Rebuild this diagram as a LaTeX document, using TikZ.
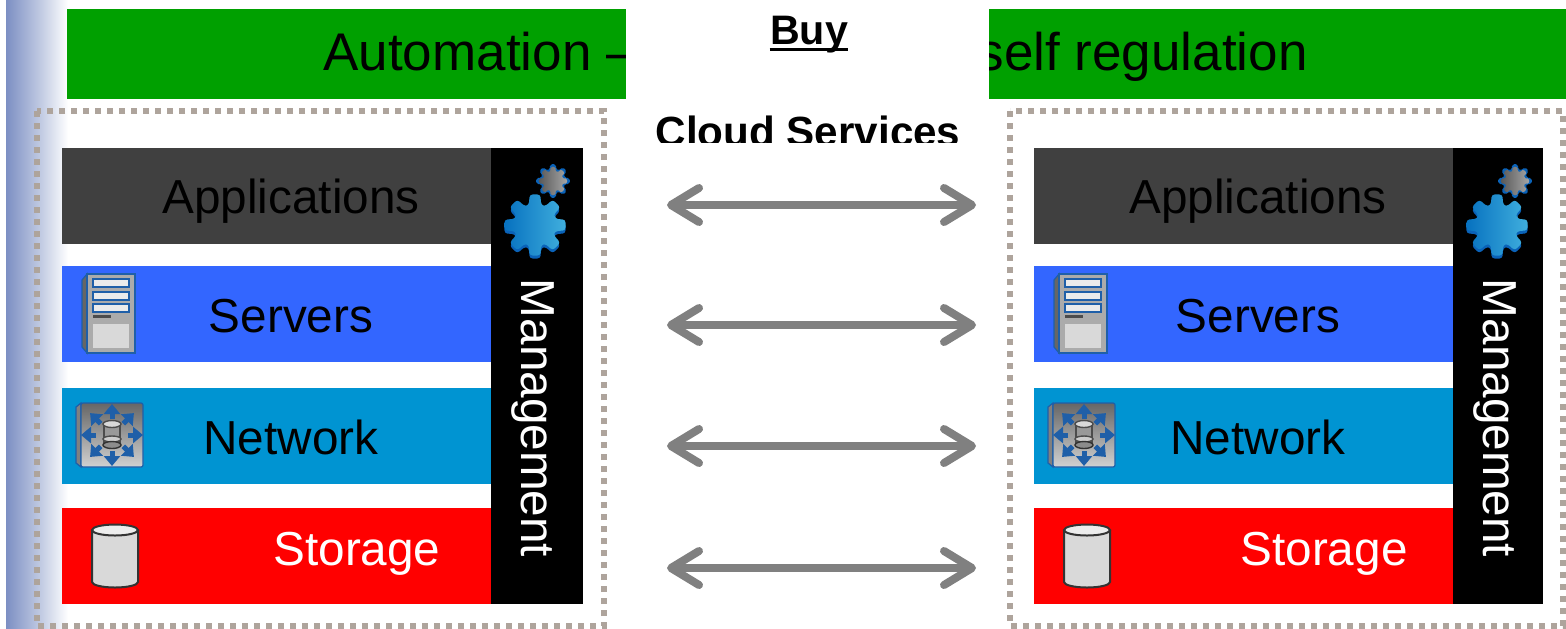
\documentclass[tikz,border=0pt]{standalone}
\usepackage{fontspec}
\setmainfont{Liberation Sans}
\usepackage{tikz}
\usetikzlibrary{arrows.meta, calc, positioning}
\definecolor{stripblue}{HTML}{7C8FC3}
\definecolor{stripmid}{HTML}{C4CDE4}
\definecolor{titlegreen}{HTML}{00A000}
\definecolor{barblue}{HTML}{3366FF}
\definecolor{netblue}{HTML}{0094D2}
\definecolor{dotgrey}{HTML}{AEA49C}
\definecolor{iconblue}{HTML}{1F5FA8}
\definecolor{gearblue}{HTML}{0A62B8}
\newcommand{\gearshape}{(-17:21) \foreach \a in {0,45,...,315} { -- ({\a-17}:21) -- ({\a-10}:31) -- ({\a+10}:31) -- ({\a+17}:21) } -- cycle}
\tikzset{
	pics/bluegear/.style={code={
		\fill[gearblue, rounded corners=1.5pt, yshift=-1.5pt] \gearshape;
		\shade[left color=gearblue!70!netblue, right color=netblue!75!white, rounded corners=1.5pt] \gearshape;
	}},
	pics/greygear/.style={code={
		\fill[gearblue, rounded corners=1pt] \gearshape;
		\shade[left color=black!65, right color=black!35, rounded corners=.7pt, scale=.84] \gearshape;
	}},
	pics/servericon/.style={code={
		\fill[black!60, draw=iconblue, line width=.6pt] (0,6) -- (5,0) -- (5,79) -- (0,73) -- cycle;
		\fill[black!33, draw=iconblue, line width=.6pt] (5,0) rectangle (53,79);
		\foreach \y in {5,18,30}
			\draw[iconblue, fill=black!8, line width=1pt] (11,\y) rectangle (47,\y+8);
		\fill[black!70] (11,41) rectangle (29,44);
		\fill[black!15] (11,50) rectangle (47,74);
	}},
	pics/networkicon/.style={code={
		\fill[black!50, draw=iconblue, line width=.6pt] (0,4) -- (5,0) -- (5,64) -- (0,60) -- cycle;
		\shade[top color=black!60, bottom color=black!18, draw=iconblue, line width=.6pt, rounded corners=1pt] (5,0) rectangle (67,64);
		\foreach \a in {0,45,...,315}
			\draw[iconblue, line width=2.5pt, -{Triangle[length=5pt,width=8pt]}] ($(36,32)+(\a:16)$) -- ($(36,32)+(\a:31)$);
		\draw[black!70, fill=black!40, line width=.7pt] (28,20) rectangle (44,43);
		\draw[black!70, fill=black!20, line width=.7pt] (36,36) ellipse [x radius=9, y radius=3];
		\draw[black!70, fill=black!15, line width=.7pt] (36,21) ellipse [x radius=9, y radius=3.5];
		\draw[black!80, fill=black!45, line width=.7pt] (36,42) ellipse [x radius=9, y radius=3.5];
	}},
	pics/storageicon/.style={code={
		\draw[black!80, fill=black!15, line width=1pt] (0,6) -- (0,58) arc[start angle=180, end angle=360, x radius=23, y radius=-5.5] -- (46,6);
		\draw[black!80, fill=black!7, line width=1pt] (23,6) ellipse [x radius=23, y radius=5.5];
	}}
}

\begin{document}
\begin{tikzpicture}[
		x=0.5pt, y=-0.5pt,
		rowbox/.style={anchor=north west, minimum height=48pt, inner sep=0pt, outer sep=0pt},
		rowtext/.style={anchor=base, inner sep=0pt, font=\fontsize{23.85}{26}\selectfont},
		titletext/.style={inner sep=0pt, font=\fontsize{26.5}{30}\selectfont},
		boldtext/.style={anchor=base, inner sep=0pt, font=\bfseries\fontsize{21.1}{24}\selectfont},
		dotbox/.style={draw=dotgrey, line width=3pt, dash pattern=on 3pt off 3pt},
		twoway/.style={draw=black!50, line width=4pt, line cap=round, {Straight Barb[length=14pt,width=17pt,round]}-{Straight Barb[length=14pt,width=17pt,round]}}
		]
		\path[use as bounding box] (0,0) rectangle (1566,628);
		\fill[white] (0,0) rectangle (1566,628);
		
		% The strip on the left
		\shade[left color=stripblue, right color=stripmid] (6,0) rectangle (42,628);
		\shade[left color=stripmid, right color=white] (42,0) rectangle (68,628);
		
		% The title, covered in the middle
		\fill[titlegreen] (67,9) rectangle (1566,99);
		\node[titletext, anchor=base west] (autotext) at (323,70) {Automation –};
		\node[titletext, anchor=base east] (selftext) at (1308,70) {self regulation};
		\fill[white] (626,0) rectangle (989,100);
		
		% The middle texts
		\node[boldtext, font=\bfseries\fontsize{20.6}{24}\selectfont] (buy) at (809,44) {Buy};
		\draw[line width=1.5pt] ($(buy.base west)+(0,5)$) -- ($(buy.base east)+(0,5)$);
		\node[boldtext] (cloud) at (808,146) {Cloud Services};
		\fill[white] (620,143) rectangle (1000,160);
		
		% The two dotted boxes
		\draw[dotbox] (37,111) rectangle (604,626);
		\draw[dotbox] (1010,111) rectangle (1563,626);
		
		% Both sides
		\foreach \s/\dx/\dm/\dt/\w/\mw in {L/0/0/0/214.5pt/46pt, R/972/962/967/209.5pt/45pt} {
			\node[rowbox, minimum width=\w, fill=black!75] (apps\s) at (62+\dx,148) {};
			\node[rowbox, minimum width=\w, fill=barblue] (serv\s) at (62+\dx,266) {};
			\node[rowbox, minimum width=\w, fill=netblue] (netw\s) at (62+\dx,388) {};
			\node[rowbox, minimum width=\w, fill=red] (stor\s) at (62+\dx,508) {};
			\node[rowbox, minimum width=\mw, minimum height=228pt, fill=black] (mgmt\s) at (491+\dm,148) {};
			\node[rowtext] (appstext\s) at (291+\dt,213) {Applications};
			\node[rowtext] (servtext\s) at (291+\dt,332) {Servers};
			\node[rowtext] (netwtext\s) at (291+\dt,454) {Network};
			\node[rowtext, white] (stortext\s) at (357+\dt,565) {Storage};
			\node[rowtext, white, anchor=center, rotate=-90] (mgmttext\s) at (533+\dm,418) {Management};
			\pic at (535+\dm,225) {bluegear};
			\pic[scale=.55] at (553+\dm,181) {greygear};
			\pic at (82+\dx,274) {servericon};
			\pic at (76+\dx,403) {networkicon};
			\pic at (92+\dx,524) {storageicon};
		}
		
		% The arrows between the sides
		\foreach \n/\y in {1/205, 2/325, 3/446, 4/568} {
			\coordinate (left\n) at (667,\y);
			\coordinate (right\n) at (976,\y);
			\draw[twoway] (left\n) -- (right\n);
		}
	\end{tikzpicture}
\end{document}
